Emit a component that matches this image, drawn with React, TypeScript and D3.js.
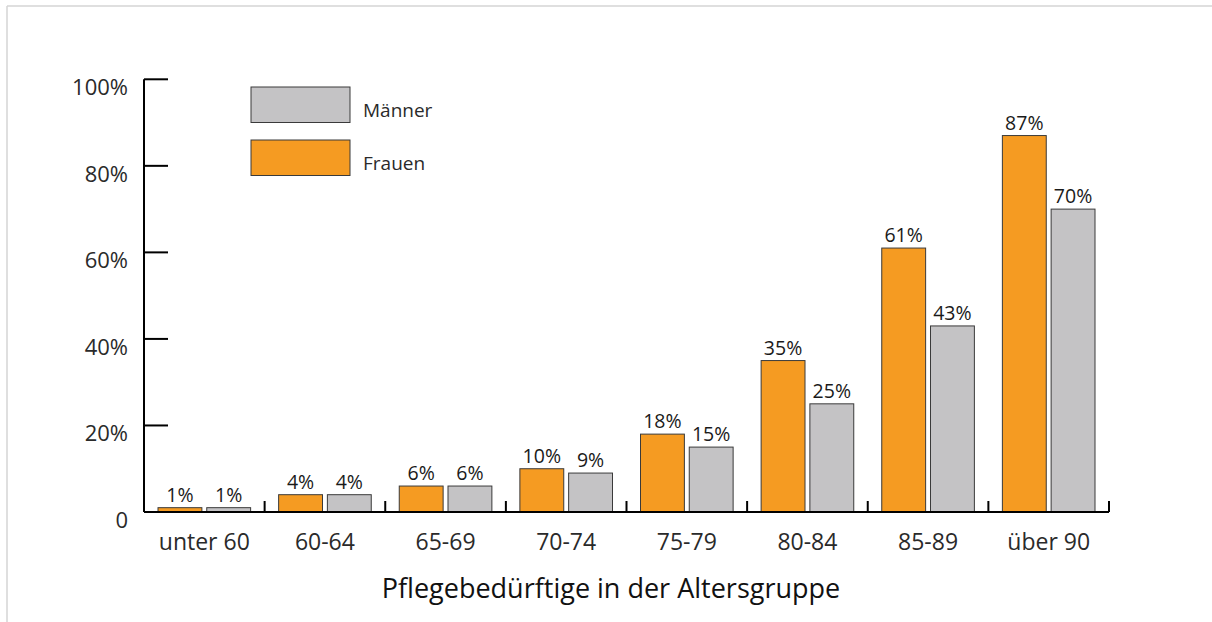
import { useEffect, useRef } from "react"
import * as d3 from "d3"

const categories = ["unter 60", "60-64", "65-69", "70-74", "75-79", "80-84", "85-89", "über 90"]
const frauen = [1, 4, 6, 10, 18, 35, 61, 87]
const maenner = [1, 4, 6, 9, 15, 25, 43, 70]
const yTicks = [0, 20, 40, 60, 80, 100]
const seriesNames = ["Frauen", "Männer"]

const W = 1212
const H = 622
const FONT = "'Open Sans', 'Noto Sans', sans-serif"
const ORANGE = "#f59b22"
const GRAY = "#c4c3c5"
const STROKE = "#3a3a3a"

const App = () => {
  const svgRef = useRef<SVGSVGElement>(null)

  useEffect(() => {
    const svg = d3.select(svgRef.current)
    svg.selectAll("*").remove()

    const left = 144
    const right = 1109
    const top = 79.3
    const bottom = 512

    // frame
    svg.append("line").attr("x1", 7).attr("x2", W).attr("y1", 6).attr("y2", 6)
      .attr("stroke", "#d4d4d4").attr("stroke-width", 1.5)
    svg.append("line").attr("x1", 7).attr("x2", 7).attr("y1", 6).attr("y2", H)
      .attr("stroke", "#d4d4d4").attr("stroke-width", 1.5)

    const x = d3.scaleBand().domain(categories).range([left, right]).paddingInner(0).paddingOuter(0)
    const inner = d3.scaleBand().domain(seriesNames).range([14, x.bandwidth() - 14]).paddingInner(0.1)
    const y = d3.scaleLinear().domain([0, 100]).range([bottom, top])

    const g = svg.append("g")

    // y axis
    g.append("line").attr("x1", left).attr("x2", left).attr("y1", y(100)).attr("y2", y(0))
      .attr("stroke", "#000").attr("stroke-width", 2)
    yTicks.forEach((t) => {
      if (t > 0) {
        g.append("line").attr("x1", left).attr("x2", left + 24).attr("y1", y(t)).attr("y2", y(t))
          .attr("stroke", "#000").attr("stroke-width", 2)
      }
      g.append("text")
        .attr("x", 128).attr("y", y(t) + 16)
        .attr("text-anchor", "end")
        .style("font-family", FONT).style("font-size", "22px").style("fill", "#2a2a2a")
        .text(t === 0 ? "0" : `${t}%`)
    })

    // bars
    const series = [
      { name: "Frauen", values: frauen, color: ORANGE },
      { name: "Männer", values: maenner, color: GRAY },
    ]
    series.forEach((s) => {
      categories.forEach((c, i) => {
        const bx = (x(c) as number) + (inner(s.name) as number)
        const v = s.values[i]
        g.append("rect")
          .attr("x", bx).attr("y", y(v))
          .attr("width", inner.bandwidth()).attr("height", y(0) - y(v))
          .attr("fill", s.color).attr("stroke", STROKE).attr("stroke-width", 1)
        g.append("text")
          .attr("x", bx + inner.bandwidth() / 2).attr("y", y(v) - 6)
          .attr("text-anchor", "middle")
          .style("font-family", FONT).style("font-size", "19.5px").style("fill", "#1a1a1a")
          .text(`${v}%`)
      })
    })

    // x axis
    g.append("line").attr("x1", left).attr("x2", right).attr("y1", bottom).attr("y2", bottom)
      .attr("stroke", "#000").attr("stroke-width", 2)
    categories.forEach((c) => {
      const edge = (x(c) as number) + x.bandwidth()
      g.append("line").attr("x1", edge).attr("x2", edge).attr("y1", bottom).attr("y2", bottom - 11)
        .attr("stroke", "#000").attr("stroke-width", 2)
      g.append("text")
        .attr("x", (x(c) as number) + x.bandwidth() / 2).attr("y", 550)
        .attr("text-anchor", "middle")
        .style("font-family", FONT).style("font-size", "23px").style("fill", "#2a2a2a")
        .text(c)
    })

    g.append("text")
      .attr("x", 611).attr("y", 598)
      .attr("text-anchor", "middle")
      .style("font-family", FONT).style("font-size", "27px").style("fill", "#111")
      .text("Pflegebedürftige in der Altersgruppe")

    // legend
    const legend = [
      { name: "Männer", color: GRAY, y: 87 },
      { name: "Frauen", color: ORANGE, y: 140 },
    ]
    legend.forEach((l) => {
      g.append("rect").attr("x", 251).attr("y", l.y).attr("width", 99).attr("height", 35.5)
        .attr("fill", l.color).attr("stroke", STROKE).attr("stroke-width", 1)
      g.append("text").attr("x", 363).attr("y", l.y + 30)
        .style("font-family", FONT).style("font-size", "19px").style("fill", "#2a2a2a")
        .text(l.name)
    })
  }, [])

  return (
    <svg
      ref={svgRef}
      width={W}
      height={H}
      style={{ position: "absolute", left: 0, top: 0, background: "#fff" }}
    ></svg>
  )
}

export default App
